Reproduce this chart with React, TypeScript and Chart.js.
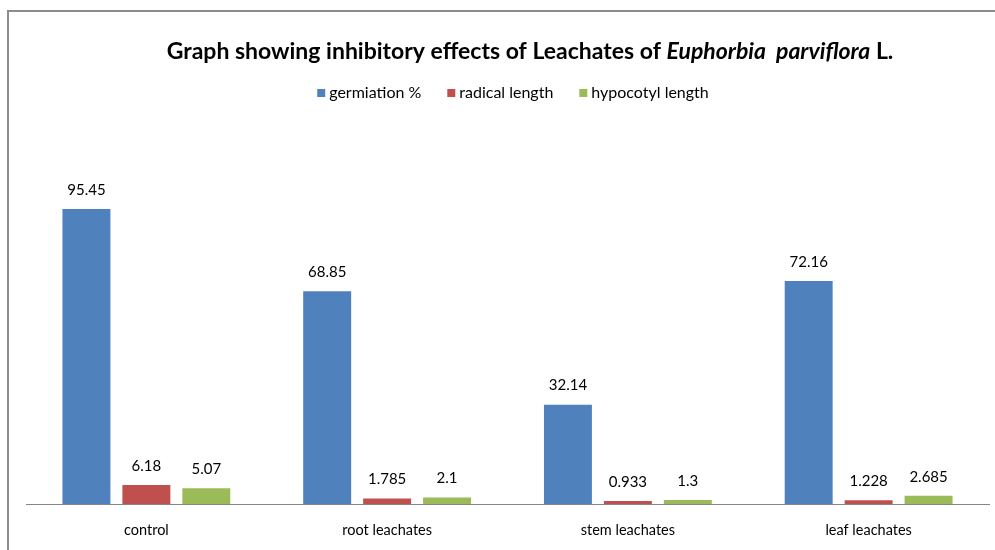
import React, { useEffect, useRef } from "react";
import { Chart, registerables } from "chart.js";
Chart.register(...registerables);

const categories = ["control", "root leachates", "stem leachates", "leaf leachates"];
const germination = [95.45, 68.85, 32.14, 72.16];
const radical = [6.18, 1.785, 0.933, 1.228];
const hypocotyl = [5.07, 2.1, 1.3, 2.685];
const labelsText = [
  ["95.45", "68.85", "32.14", "72.16"],
  ["6.18", "1.785", "0.933", "1.228"],
  ["5.07", "2.1", "1.3", "2.685"],
];
const seriesNames = ["germiation %", "radical length", "hypocotyl length"];
const colors = ["#4F81BD", "#C0504D", "#9BBB59"];
const FONT = "Lato, 'Open Sans', sans-serif";

const decorPlugin = {
  id: "decor",
  afterDraw(chart: any) {
    const ctx = chart.ctx;
    ctx.save();
    // frame
    ctx.strokeStyle = "#8c8c8c";
    ctx.lineWidth = 2;
    ctx.beginPath();
    ctx.moveTo(1000, 11);
    ctx.lineTo(8, 11);
    ctx.lineTo(8, 560);
    ctx.stroke();

    // title with italic part
    const parts = [
      { t: "Graph showing inhibitory effects of Leachates of ", f: "bold 23px " + FONT },
      { t: "Euphorbia  parviflora", f: "italic bold 23px " + FONT },
      { t: " L.", f: "bold 23px " + FONT },
    ];
    let total = 0;
    for (const p of parts) { ctx.font = p.f; total += ctx.measureText(p.t).width; }
    let x = 530 - total / 2;
    ctx.fillStyle = "#000";
    ctx.textBaseline = "middle";
    ctx.textAlign = "left";
    for (const p of parts) { ctx.font = p.f; ctx.fillText(p.t, x, 52); x += ctx.measureText(p.t).width; }

    // legend
    ctx.font = "16px " + FONT;
    const gap = 26;
    let widths = seriesNames.map((n) => 12 + ctx.measureText(n).width);
    let lw = widths.reduce((a, b) => a + b, 0) + gap * (seriesNames.length - 1);
    let lx = 513 - lw / 2;
    seriesNames.forEach((n, i) => {
      ctx.fillStyle = colors[i];
      ctx.fillRect(lx, 89, 8, 8);
      ctx.fillStyle = "#000";
      ctx.fillText(n, lx + 12, 93);
      lx += widths[i] + gap;
    });

    // data labels
    ctx.textAlign = "center";
    ctx.textBaseline = "middle";
    ctx.font = "15px " + FONT;
    ctx.fillStyle = "#000";
    chart.data.datasets.forEach((ds: any, di: number) => {
      const meta = chart.getDatasetMeta(di);
      meta.data.forEach((bar: any, i: number) => {
        ctx.fillText(labelsText[di][i], bar.x, bar.y - 19);
      });
    });
    ctx.restore();
  },
};

export default function App() {
  const ref = useRef<HTMLCanvasElement>(null);
  useEffect(() => {
    const chart = new Chart(ref.current!, {
      type: "bar",
      data: {
        labels: categories,
        datasets: [
          { label: seriesNames[0], data: germination, backgroundColor: colors[0] },
          { label: seriesNames[1], data: radical, backgroundColor: colors[1] },
          { label: seriesNames[2], data: hypocotyl, backgroundColor: colors[2] },
        ],
      },
      options: {
        animation: false,
        responsive: false,
        devicePixelRatio: 1,
        layout: { padding: { left: 26, right: 6, top: 133, bottom: 10 } },
        datasets: { bar: { categoryPercentage: 0.747, barPercentage: 0.8 } },
        plugins: { legend: { display: false }, title: { display: false }, tooltip: { enabled: false } },
        scales: {
          x: {
            grid: { display: false, drawTicks: false },
            border: { display: true, color: "#868686", width: 1 },
            ticks: { color: "#000", font: { family: FONT, size: 14.5 }, padding: 18 },
            afterFit: (scale: any) => { scale.height = 36; },
          },
          y: { display: false, min: 0, max: 120 },
        },
      },
      plugins: [decorPlugin],
    });
    return () => chart.destroy();
  }, []);
  return (
    <div style={{ position: "fixed", left: 0, top: 0, width: 995, height: 550, background: "#fff" }}>
      <canvas ref={ref} width={995} height={550} />
    </div>
  );
}
